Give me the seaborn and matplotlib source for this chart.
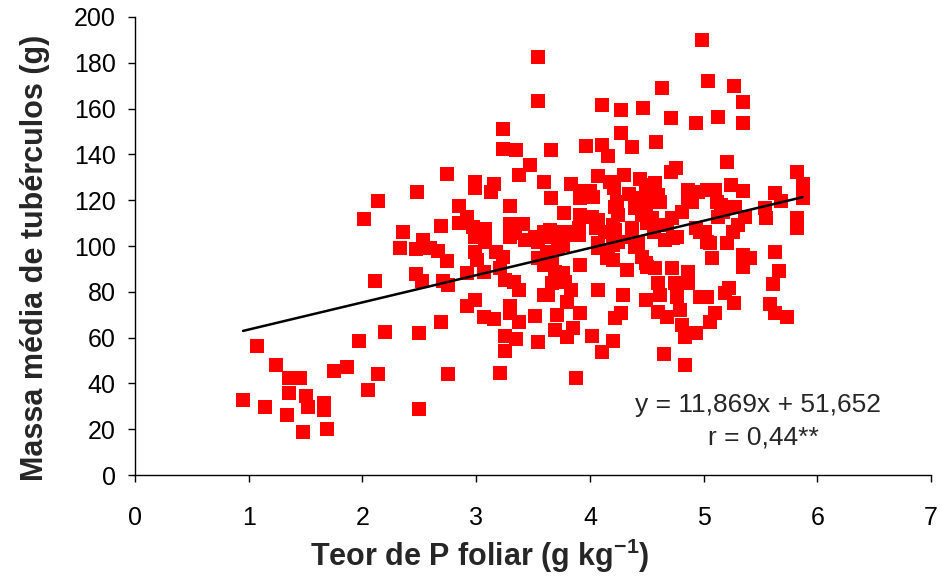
import numpy as np
import pandas as pd
import matplotlib
matplotlib.use("Agg")
import matplotlib.pyplot as plt
import seaborn as sns

# Leaf P content (g/kg) and mean tuber mass (g) per plot
teor_p = [
    0.95, 1.07, 1.14, 1.24, 1.35, 1.45, 1.35, 1.50, 1.52, 1.66, 1.66, 1.34, 1.48, 1.69,
    1.75, 1.86, 1.97, 2.20, 2.14, 2.05, 2.11, 2.14, 2.01,
    3.54, 3.54, 3.24, 3.24, 3.35, 3.47, 3.38, 2.74, 2.99, 2.99, 3.16, 3.13, 2.48, 3.60,
    2.85, 2.92, 2.85, 3.30, 3.30, 3.41, 2.69, 2.36, 2.97, 3.08,
    2.33, 2.53, 2.47, 2.59, 2.66, 2.74, 2.47, 2.52, 2.71, 2.75, 2.92, 3.07, 2.99, 3.08,
    2.99, 3.01, 3.17, 3.24, 3.21, 3.25, 3.33, 3.38, 3.30, 3.34, 3.43, 3.52, 3.54, 2.99,
    2.92, 3.07, 3.16, 3.30, 3.30, 3.38, 2.69, 2.50, 3.52, 3.60, 3.25, 3.35, 3.54, 3.25,
    2.75, 3.21, 2.50,
    4.99, 5.04, 4.63, 4.11, 4.27, 4.47, 4.71, 4.93, 4.27, 4.58, 3.66, 3.97, 4.11, 4.16,
    4.37, 4.76, 4.71, 3.83, 4.07, 4.18, 4.30, 4.44, 4.21, 3.91, 4.00, 3.91, 3.66, 4.34,
    4.49, 4.57, 4.49, 4.60, 4.49, 4.62, 4.86, 4.95, 4.86, 3.77, 3.91, 4.02, 4.07, 4.22,
    4.25, 4.20, 4.46, 4.55, 4.40, 4.81, 3.90, 3.74, 3.65, 4.37, 4.57, 4.93, 4.72, 4.13,
    3.67, 3.78, 3.90, 3.76, 4.07, 4.20, 4.22, 4.15, 4.42, 4.46, 4.49, 4.66, 4.77, 3.67,
    3.91, 3.76, 4.33, 4.57, 4.72, 3.67, 3.78, 3.63, 3.83, 4.07, 4.29, 4.49, 4.60, 4.62,
    4.75, 4.86, 4.86, 4.77, 4.97, 3.80, 3.91, 3.71, 4.27, 4.22, 4.60, 4.68, 4.79, 4.81,
    3.69, 3.85, 3.80, 4.02, 4.20, 4.84, 4.93, 4.11, 4.65, 4.84, 3.88,
    5.27, 5.35, 5.13, 5.35, 5.21, 5.82, 5.87, 5.87, 5.10, 5.24, 5.35, 5.63, 5.68, 5.54,
    5.55, 5.15, 5.28, 5.13, 5.36, 5.82, 5.82, 5.30, 5.26, 5.01,
    5.06, 5.21, 5.07, 5.63, 5.41, 5.35, 5.66, 5.61, 5.22, 5.19, 5.27, 5.58, 5.63, 5.73,
    5.03, 5.10, 5.06,
    4.44, 4.44, 4.24, 4.03, 3.60, 3.81, 4.05, 4.22, 4.25, 4.37, 4.40, 4.16, 4.20, 3.54,
    3.62, 3.72, 3.60, 3.69, 4.07,
    4.49, 4.50, 4.56, 4.68, 4.73, 4.90, 5.03, 5.12, 5.17, 4.97, 5.03, 4.86, 4.50, 5.35,
]

massa_media = [
    32.9, 56.5, 29.8, 48.2, 42.5, 42.5, 36.0, 34.6, 29.8, 31.6, 28.4, 26.3, 18.9, 20.2,
    45.5, 47.3, 58.6, 62.6, 44.2, 37.2, 84.8, 119.8, 111.8,
    182.5, 163.3, 151.1, 142.4, 141.9, 135.4, 131.0, 131.4, 128.0, 125.3, 127.0, 123.6, 123.6, 128.0,
    117.5, 112.7, 110.0, 117.5, 109.6, 109.6, 108.7, 106.0, 108.3, 107.4,
    99.1, 102.6, 98.8, 99.1, 98.0, 93.4, 87.8, 84.8, 84.8, 83.0, 88.0, 88.6, 104.0, 101.9,
    97.5, 93.9, 97.5, 95.0, 90.3, 85.2, 84.4, 80.8, 104.0, 105.7, 102.6, 104.0, 94.6, 76.4,
    73.8, 69.1, 68.1, 73.8, 70.6, 66.8, 66.8, 62.1, 69.4, 78.6, 60.7, 59.4, 58.1, 54.3,
    44.1, 44.7, 28.8,
    190.0, 172.0, 169.0, 161.6, 159.4, 160.3, 155.9, 153.7, 149.3, 145.4, 141.9, 143.7, 144.1, 139.3,
    143.2, 134.0, 132.3, 127.1, 130.6, 128.0, 131.0, 129.3, 125.3, 124.0, 124.0, 121.0, 121.0, 122.7,
    126.6, 127.5, 122.3, 122.3, 117.9, 119.2, 124.5, 123.6, 121.0, 114.4, 113.5, 112.7, 111.4, 117.0,
    113.5, 109.2, 113.5, 112.2, 116.6, 114.8, 107.9, 106.1, 107.0, 107.9, 109.2, 107.9, 112.2, 106.1,
    104.0, 104.8, 104.8, 100.4, 101.3, 100.4, 104.8, 94.8, 101.3, 95.2, 92.6, 102.6, 104.0, 92.6,
    91.7, 88.2, 89.5, 90.4, 90.4, 83.8, 84.3, 78.6, 80.8, 80.8, 78.6, 76.4, 83.8, 78.6,
    83.8, 86.5, 83.8, 77.7, 77.7, 75.5, 70.7, 69.9, 70.7, 68.6, 71.2, 69.0, 72.0, 65.5,
    63.3, 64.2, 60.3, 60.7, 58.5, 60.3, 62.0, 53.7, 52.8, 48.0, 42.4,
    169.9, 162.9, 156.3, 153.7, 136.7, 132.3, 127.1, 121.0, 124.5, 126.6, 124.0, 123.1, 119.7, 116.6,
    112.2, 117.9, 117.0, 112.7, 112.7, 112.2, 107.9, 109.2, 106.1, 106.1,
    101.3, 101.3, 94.8, 97.4, 94.8, 90.8, 89.1, 83.4, 81.7, 79.5, 75.1, 74.7, 70.7, 69.0,
    77.7, 70.7, 66.8,
    121.0, 116.6, 119.2, 121.4, 106.1, 106.1, 107.9, 107.0, 101.7, 103.9, 99.6, 98.3, 93.9, 101.7,
    97.4, 99.1, 91.7, 88.6, 99.1,
    114.8, 110.0, 106.0, 109.0, 103.5, 119.2, 124.5, 119.2, 114.8, 106.1, 101.7, 88.6, 90.8, 96.0,
]

# Fitted linear regression
slope = 11.869
intercept = 51.652
equation_label = "y = 11,869x + 51,652"
r_label = "r = 0,44**"

x_ticks = [0, 1, 2, 3, 4, 5, 6, 7]
y_ticks = list(range(0, 201, 20))

df = pd.DataFrame({"teor_p": teor_p, "massa": massa_media})

sns.set_style("ticks")
plt.rcParams["font.family"] = ["Liberation Sans", "DejaVu Sans"]
plt.rcParams["axes.unicode_minus"] = False

fig = plt.figure(figsize=(9.41, 5.80), dpi=100)
ax = fig.add_axes([0.1435, 0.181, 0.8459, 0.7897])

sns.scatterplot(data=df, x="teor_p", y="massa", marker="s", s=100,
                color="#FF0000", linewidth=0, ax=ax, zorder=2)

x_fit = np.array([min(teor_p), max(teor_p)])
sns.lineplot(x=x_fit, y=slope * x_fit + intercept, color="black",
             linewidth=1.8, ax=ax, zorder=3)

ax.set_xlim(0, 7)
ax.set_ylim(0, 200)
ax.set_xticks(x_ticks)
ax.set_yticks(y_ticks)
ax.tick_params(axis="both", direction="out", length=5, width=1,
               labelsize=18, colors="black")
ax.tick_params(axis="x", pad=17)
ax.tick_params(axis="y", pad=9)

for side in ("top", "right"):
    ax.spines[side].set_visible(False)
for side in ("left", "bottom"):
    ax.spines[side].set_linewidth(1.0)
    ax.spines[side].set_color("black")

ax.set_xlabel("Teor de P foliar (g kg$^{\\mathregular{-1}}$)", fontsize=22,
              fontweight="bold")
ax.set_ylabel("Massa média de tubérculos (g)", fontsize=22,
              fontweight="bold")
ax.xaxis.set_label_coords(0.433, -0.135)
ax.yaxis.set_label_coords(-0.107, 0.474)

ax.text(5.48, 30.5, equation_label, fontsize=19, ha="center", va="center")
ax.text(5.53, 16.5, r_label, fontsize=19, ha="center", va="center")

fig.savefig("out.png", dpi=100, facecolor="white")
